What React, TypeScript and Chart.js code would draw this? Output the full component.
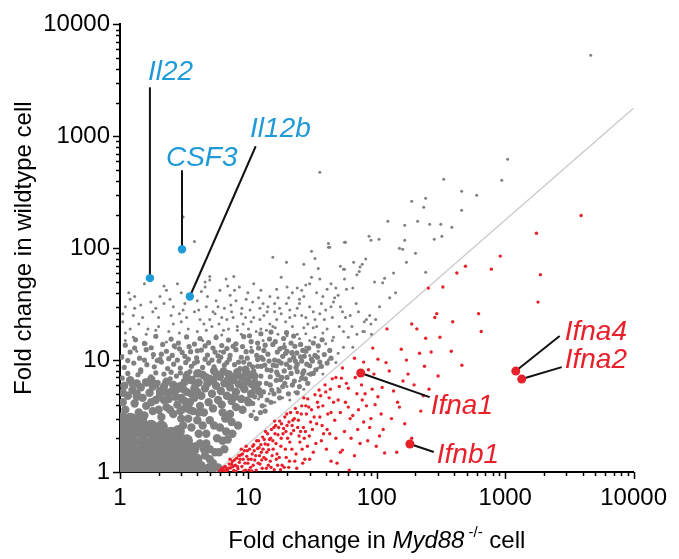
import React, { useEffect, useRef } from 'react';
import { Chart, registerables } from 'chart.js';
Chart.register(...registerables);

const FONT = '"Liberation Sans", Arial, Helvetica, sans-serif';

const axisDecades = [1, 10, 100, 1000, 10000];

// solid core of the cloud
const grayCore: number[][] = [
  [1.05,1.07],[1.22,1.06],[1.45,1.08],[1.72,1.05],[2.05,1.07],[2.4,1.06],[2.85,1.08],[3.3,1.06],[3.8,1.07],
  [1.08,1.29],[1.27,1.31],[1.5,1.28],[1.78,1.3],[2.1,1.29],[2.5,1.31],[2.9,1.28],[3.4,1.3],[3.9,1.29],
  [1.04,1.55],[1.24,1.57],[1.47,1.54],[1.74,1.56],[2.07,1.55],[2.45,1.57],[2.9,1.55],[3.35,1.56],[3.7,1.6],
  [1.06,1.86],[1.25,1.88],[1.5,1.85],[1.8,1.87],[2.1,1.86],[2.5,1.88],[2.95,1.85],[3.3,1.9],
  [1.05,2.24],[1.25,2.22],[1.5,2.25],[1.78,2.23],[2.1,2.26],[2.5,2.22],[2.85,2.3],
  [1.05,2.6],[1.25,2.58],[1.48,2.62],[1.75,2.56],[2.1,2.52],
  [1.04,3.0],[1.22,2.95],[1.45,2.9],
];

// dense speckled zone
const grayDense: number[][] = [
  [1.1,3.6],[1.3,4.1],[1.15,4.8],[1.4,3.4],[1.6,3.9],[1.5,4.6],[1.25,5.4],[1.08,5.9],[1.45,5.7],[1.7,5.1],
  [1.9,4.4],[1.8,3.5],[2.1,3.1],[2.3,3.8],[2.05,4.9],[2.4,4.5],[2.6,3.3],[2.8,4.0],[2.55,5.3],[2.2,5.8],
  [3.0,3.0],[3.2,3.7],[3.0,4.6],[3.5,4.2],[3.4,3.0],[3.7,3.5],[3.3,5.2],[2.9,5.8],[1.6,6.3],[1.2,6.6],
  [1.9,6.1],[4.0,2.9],[4.2,3.9],
  [4.3,4.8],[4.6,5.6],[4.1,6.3],[4.9,4.2],[5.2,5.0],[5.6,5.9],[5.0,6.8],[5.8,4.4],[6.1,5.3],[6.5,6.2],
  [6.0,7.1],[6.8,4.8],[7.2,5.7],[7.6,6.6],[7.0,7.5],[8.0,5.2],[8.4,6.1],[8.9,7.0],[8.2,7.8],[9.3,5.5],
  [9.8,6.5],[10.3,7.4],[9.5,8.2],[4.5,3.4],[5.3,3.7],[6.2,4.0],[7.4,4.3],[4.4,2.6],[5.0,2.9],[4.7,2.2],
  [4.4,7.4],[5.4,8.0],[3.8,5.6],[3.6,6.6],[4.0,7.6],[3.3,7.2],[4.2,1.8],[4.6,1.4],[4.3,1.15],[5.0,1.6],
  [5.3,1.2],[5.7,2.0],[6.0,2.5],[6.6,3.0],[7.2,3.3],[8.0,3.8],[8.8,4.5],[10.5,5.0],[11.5,6.0],
  [1.05,4.2],[1.2,3.1],[1.35,4.7],[1.55,3.2],[1.75,4.2],[2.0,3.6],[2.2,4.4],[2.45,3.6],[2.7,4.7],[2.95,3.5],
  [3.2,4.3],[3.5,3.6],[3.8,4.6],[4.1,3.4],[1.05,5.1],[1.35,5.0],[1.8,5.8],[2.05,5.3],[2.35,5.1],[2.75,5.4],
  [3.1,5.5],[3.6,5.0],[4.0,5.2],[1.35,6.2],[1.75,6.7],[2.3,6.4],[2.6,6.0],[3.2,6.4],[3.9,6.1],[4.8,6.2],
  [5.3,6.5],[5.7,7.4],[6.4,7.9],[6.9,6.6],[7.8,7.1],[4.7,7.0],[3.1,2.6],[3.6,2.5],[4.1,2.2],[3.9,1.7],
  [4.5,1.6],[4.9,1.1],[5.5,1.5],[5.8,1.1],[6.3,1.9],[6.7,2.3],[7.4,2.8],[5.4,2.6],[6.3,3.4],[7.8,4.7],
  [9.0,5.9],[9.0,3.6],[10.0,4.2],[10.6,6.1],[11.1,7.2],[12,5.3],
  [4.4,1.02],[5.0,1.3],[5.2,1.03],[4.7,1.8],[5.9,1.5],[6.5,1.6],[6.9,1.95],[7.5,2.2],[8.3,2.6],
];

// medium density zone
const grayMid: number[][] = [
  [1.04,6.9],[1.22,6.1],[1.38,7.4],[1.56,6.5],[1.74,7.1],[1.98,6.3],[2.2,7.5],[2.46,6.8],[2.75,7.2],[3.05,6.2],
  [3.3,7.6],[3.7,6.9],[4.1,7.9],
  [1.08,8.6],[1.28,9.4],[1.45,8.2],[1.62,9.1],[1.85,8.7],[2.1,9.6],[2.35,8.4],[2.62,9.2],[2.95,8.5],[3.25,9.5],
  [3.6,8.8],[4.0,9.7],[4.4,8.6],[4.9,9.4],[5.4,8.7],[5.9,9.8],[6.5,9.0],[7.1,10.2],[7.8,9.1],
  [1.03,10.6],[1.2,11.8],[1.42,10.4],[1.6,12.4],[1.82,11.2],[2.05,10.2],[2.3,12.0],[2.55,11.0],[2.9,12.6],
  [3.2,10.8],[3.55,11.9],[3.95,10.5],[4.3,12.3],[4.8,11.1],[5.3,12.8],[5.8,10.9],[6.4,11.8],[7.2,11.0],
  [8.0,12.4],[8.8,10.6],[9.6,11.9],
  [1.1,13.6],[1.32,15.2],[1.55,14.1],[1.9,16.3],[2.15,13.8],[2.5,15.4],[2.85,14.2],[3.3,16.1],[3.8,13.9],
  [4.2,15.6],[4.9,14.3],[5.6,15.9],[6.2,13.5],[7.0,15.1],[8.0,14.0],[9.2,16.2],[10.5,14.6],
  [8.6,8.4],[9.4,7.6],[10.2,9.2],[11,8.0],[11.8,10.1],[12.5,7.2],[13.4,9.0],[14.2,11.3],[15,8.1],[16,10],
  [17,7.4],[18,9.4],[19.5,11.5],[21,8.6],[22.5,10.6],[24,7.9],[26,9.8],[28,12],[30,8.9],[33,11],[36,9.6],
  [12,12.8],[15.5,13.8],[19,13],[11,5.6],[12.5,4.8],[13.8,6.2],[15.2,5.4],[16.5,6.6],[18.5,5.8],[20,7.0],
  [22,6.0],[24,5.1],[26,6.9],[29,6.2],[32,7.6],[13.5,3.5],[11.5,3.0],[12.8,3.9],[15,4.2],[17.5,4.6],
  [1.15,7.6],[1.45,7.9],[1.9,7.7],[2.5,7.8],[2.95,7.7],[3.5,7.9],[4.3,7.6],[1.15,9.9],[1.55,10.0],[1.95,9.9],
  [2.4,10.3],[2.8,10.0],[3.4,10.2],[3.8,9.4],[4.6,10.2],[5.2,10.0],[6.1,10.6],[6.8,9.5],[8.4,9.6],[9.2,9.6],
  [1.3,12.8],[1.75,12.9],[2.1,11.3],[2.65,13.4],[3.05,11.7],[3.45,13.2],[4.0,12.1],[4.6,13.4],[5.5,11.8],
  [6.8,12.7],[7.6,13.3],[9.0,13.2],[10.6,12.0],[11.6,11.0],[13,10.2],[14.5,9.8],[16.5,8.9],[19,8.0],[21,10.0],
  [24,9.2],[27,8.0],[31,10.2],[13.2,12.2],[16.8,11.8],[20,12.0],[23,13.3],[14.8,7.1],[17.8,6.7],[9.8,10.4],
  [10.8,8.7],[12.6,8.8],[11.3,6.6],[9.8,4.5],[10.8,4.1],[12.2,6.2],
  [10.5,3.2],[11.2,4.7],[12.4,3.4],[13.1,5.2],[14.0,4.4],[14.8,6.0],[15.8,5.0],[16.6,7.8],[17.3,5.3],[18.2,7.0],
  [19.2,6.2],[20.5,5.0],[21.5,7.6],[22.8,6.5],[23.5,8.6],[25,5.8],[26.5,7.6],[27.8,6.8],[28.5,9.2],[30.5,7.5],
  [31.5,9.8],[33.5,8.2],[34.5,10.6],[37,8.8],[39,11.2],[41,9.4],[43,12.2],[44,10.4],[11.8,14.2],[13.5,13.6],
  [14.6,15.4],[16.2,14.6],[17.6,12.6],[18.8,15.6],[21.5,14.2],[23.8,11.6],[25.5,13.8],[27.2,10.8],[29.5,12.8],
  [32,14.2],[35,13.4],[37.5,15.2],[10.2,16.5],[12.5,17.2],[15,17.8],[19.8,17.6],[22.5,16.4],[9.2,7.2],[10.0,6.2],
  [11.8,8.8],[12.6,10.6],[14.0,8.2],[15.6,9.0],[17.2,9.8],[18.5,10.8],[19.8,9.2],[21.8,11.6],[23.2,9.8],
  [25.5,10.7],[26.5,12.2],
];

// scattered points
const graySparse: number[][] = [
  [3.8,115],[3.1,190],[36,477],[332,413],[458,323],[600,297],[458,218],[187,263],[240,279],[232,232],
  [122,174],[165,160],[208,174],[258,164],[315,164],[384,154],[321,128],[87,128],[90,118],[104,120],
  [57,113],[165,118],[159,98],[240,61],[52,69],[66,75],[74,68],[77,72],[73,62],[55,65],[43,102],
  [940,405],[1045,623],[4630,5290],
  [56,113],[42,110],[42,102],[31,94],[15.5,83],[19.8,75],[27,72],[33,81],[35,66],[56,65],[5.0,56],[5.0,52],
  [6.7,53],[7.7,56],[4.6,45],[7.2,38],[12,36],[14.7,37],[16.6,43],[20.6,36],[22,40],[27,37],[31,55],[28,47],
  [36,53],[41,43],[44,48],[48,44],[56,53],[58,43],[65,44],[69,32],[96,50],[111,49],[115,54],[126,36],[88,25],
  [98,23],[83,23],[57,24],[54,27],[47,36],[37,32],[30,30],[25,32],[21,28],[14.2,30],[12.3,29],[10.3,28],
  [8.9,29],[7.4,27],[5.8,30],[4.7,30],[5.3,27],[6.2,24],[7.6,24],[9.1,21],[12.3,23],[16.6,23],[22,20],
  [34,20],[41,19],[51,20],[64,20],[78,18],[91,17],
  [1.17,40],[1.74,33],[1.27,25],[1.5,24],[2.2,32],[2.45,35],[3.1,28],[3.2,32],[4.0,34],[4.8,37],[9.9,40],
  [4.2,23],[2.6,21],[1.9,18.5],[1.27,16],[1.1,15],[1.6,14],[2.3,14.5],[3.3,16],[4.7,18.5],[6.8,23],[14.7,21],
  [19.8,32],[36,26],
  [1.05,11],[1.35,12],[1.8,10.5],[2.7,12.8],[3.5,13],[4.4,15],[5.6,16.5],[6,12],[7.8,14],[8.8,17],[10.5,13],
  [11.5,18],[13,15],[17,17],[19,14],[24,17],[27,19.5],[30,15],[38,17.5],[46,16],[55,18],[62,25],[72,27],
  [80,22],[105,30],[140,40],[135,60],[170,75],[200,90],[280,120],[2.0,20],[3.0,22],[1.2,19],[5.2,20],[7.0,19],
  [10,19],[11,24],[18,26],[26,25],[44,30],[50,38],[70,58],[82,80],[150,100],[2.8,48],[1.1,30],[6.0,42],
  [8.5,45],[11,48],[18,55],
  [40,14],[45,15],[35,12],[42,10],[50,11.5],[55,13],[60,16],[48,9.5],[65,13],[70,17],[80,18],[90,21],
  [38,7.5],[35,8.5],[29,7.5],[25,6.5],[23,5.2],[27,5.5],[20,5.8],[17,5.6],[14.5,5.0],[16,4.2],[18.5,4.6],
  [21,4.4],[12,4.5],[11,3.5],[13.5,3.9],[25,15.5],[20,16.5],[33,16],[22,12],[18,13],[28,13],[30,11],
  [1.1,17.5],[1.4,21],[1.65,19],[2.0,24],[2.4,18],[2.9,26],[3.4,19],[3.8,27],[4.5,21],[5.5,26],[6.4,18.5],
  [7.3,31],[8.2,20],[9.5,24],[10.8,33],[12.5,19],[14,27],[15.5,20],[17.5,29],[19.5,22],[23,25],[25,35],
  [29,21],[32,27],[39,23],[1.3,29],[1.8,27],[2.6,30],[3.6,38],[5.6,34],[6.5,29],[8,34],[1.55,48],[2.3,42],
  [12.5,42],[16,32],[20,45],[26,42],[30,48],[38,37],[45,24],[52,30],[1.05,22],[1.2,35],[2.05,37],[4.3,41],
  [6.9,46],[9.6,35],
  [1.05,26],[1.45,31],[1.9,29],[2.5,25],[3.3,24],[4.1,28],[5.0,23],[5.9,21],[8.8,26],[10.5,22],[13.2,25],
  [16,27],[21,24],[24,29],[28,24],[33,23],[40,28],[46,33],[1.3,37],[2.2,46],[3.0,40],[4.6,50],[7.8,42],
  [13,32],[17,36],[24,44],[34,40],[1.6,17],[2.9,17.5],[4.0,18],[6.2,16.8],[8.2,18.5],[13.8,18.5],[16.2,19.5],
  [28,17.2],[32,19.5],
];

const redPoints: number[][] = [
  [6.0,1.03],[6.2,1.07],[6.5,1.02],[6.6,1.12],[6.9,1.05],[7.1,1.18],[7.3,1.09],[7.5,1.24],[7.7,1.03],[7.9,1.15],
  [8.1,1.33],[8.3,1.07],[8.5,1.22],[8.7,1.42],[8.9,1.12],[9.1,1.3],[9.3,1.55],[9.5,1.04],[9.7,1.38],[9.9,1.2],
  [10.2,1.6],[10.4,1.1],[10.7,1.45],[11,1.75],[11.2,1.28],[11.5,1.04],[11.8,1.62],[12,1.9],[12.3,1.18],
  [12.6,1.5],[12.9,2.05],[13.2,1.35],[13.5,1.78],[13.8,1.08],[14.1,2.2],[14.4,1.58],[14.8,1.25],[15.1,2.4],
  [15.5,1.9],[15.9,1.05],[16.3,2.6],[16.7,1.45],[17,2.15],[17.5,2.85],[17.9,1.7],[18.3,1.15],[18.8,2.45],
  [19.2,3.1],[19.7,1.35],[20.2,2.0],[20.7,2.8],[21.3,3.4],[21.8,1.6],[22.5,2.35],[23.2,3.7],[23.8,1.08],
  [24.5,2.9],[25.2,1.85],[26,3.9],[26.8,2.5],[27.5,1.3],[28.3,3.3],[29,4.5],[29.8,2.1],[31,3.6],[32,1.5],
  [33,4.9],[34,2.7],[35.5,5.4],[37,1.9],[38,3.9],[39.5,6.0],[41,2.4],[42.5,4.6],[44,1.25],[45,6.8],
  [43,2.2],[44,3.4],[48,7],[53,6.9],[54,8.5],[52,3.4],[49,1.2],[54,1.57],[61,1.04],[60,5.6],[60,3.8],
  [67,10.4],[74,1.8],[76,6],[79,9.6],[79,2.8],[83,3.9],[93,12.8],[97,4],[102,10.2],[102,4.7],[105,2.1],
  [110,5.7],[115,1.48],[120,19],[143,1.5],[145,4.2],[170,10],[187,21],[187,2.0],[205,19],[215,11.5],
  [240,15.7],[252,44],[265,11.8],[283,24],[293,26],[300,7.2],[327,45],[390,22],[420,60],[620,26],[650,18],
  [1800,33],[1880,58],[1750,136],[3900,196],[915,85],[490,69],[780,65],
  [6.8,1.02],[7.2,1.3],[8.0,1.01],[8.8,1.6],[9.6,1.7],[10.0,1.3],[10.9,1.15],[11.6,1.9],[12.2,1.4],[13.0,1.6],
  [13.6,2.3],[14.6,1.95],[15.3,1.4],[16.0,2.85],[16.9,1.15],[18.0,2.0],[19.0,1.1],[19.9,3.3],[20.9,1.25],
  [22.2,2.9],[24.0,3.4],[25.5,2.3],[27,4.6],[28.8,1.7],[30.5,2.8],[36,3.1],[40,5.2],[47,2.9],[50,4.4],
  [56,2.3],[65,3.2],[70,5],[88,2.5],[95,7.5],[130,3.0],[160,6.5],
  [6.1,1.01],[6.4,1.1],[7.0,1.08],[7.4,1.17],[7.8,1.28],[8.2,1.12],[8.6,1.3],[9.0,1.45],[9.2,1.02],[9.8,1.55],
  [10.1,1.04],[10.5,1.3],[10.8,1.7],[11.4,1.4],[11.9,1.2],[12.5,1.75],[12.8,1.08],[13.3,1.95],[13.9,1.5],
  [14.3,1.15],[14.9,2.0],[15.6,1.6],[16.1,2.2],[16.5,1.3],[17.2,2.5],[17.8,1.05],[18.6,2.2],[19.4,1.6],
  [20,2.6],[20.6,1.1],[21.5,2.2],[22.8,3.0],[23.5,1.45],[24.8,2.1],[25.8,3.3],[26.5,1.2],[27.8,2.3],
  [29.5,3.8],[31.5,2.4],[33.5,1.8],[35,3.8],[36.5,4.8],[38.5,2.2],[41.5,3.3],[46,4.2],[51,5.8],[57,4.2],
  [63,2.0],[68,7.0],[72,3.6],[81,5.0],[86,8.2],[90,3.0],[99,1.7],[108,3.3],[125,8.0],[135,5.3],[155,12.5],
  [165,2.7],[195,6.0],[220,3.5],[235,8.8],[255,5.5],[310,16],[350,3.4],[380,12],[460,9],
  [6.3,1.05],[6.7,1.07],[7.6,1.12],[8.4,1.4],[9.4,1.2],[10.6,1.02],[11.1,1.55],[12.1,1.65],[12.7,1.28],
  [13.7,1.3],[14.2,1.75],[15.0,1.1],[15.8,2.5],[16.4,1.8],[17.4,1.35],[18.1,2.7],[19.6,2.3],[21.0,1.85],
  [21.9,2.6],[23.0,1.25],[24.2,2.5],[26.2,1.6],[27.2,2.0],[28.0,3.9],[30.0,1.3],[32.5,3.1],[34.5,4.2],
  [37.5,2.6],[40.5,1.6],[43.5,5.5],[48,2.0],[52,1.5],[58,6.2],[62,3.0],[67,1.4],[71,2.4],[77,4.4],[85,1.9],
  [92,5.5],[112,2.4],[118,9.5],[150,3.8],[175,7.5],[230,4.8],
];

const blueGenes = ['Il22', 'CSF3', 'Il12b'];
const blueX = [1.71, 3.04, 3.5];
const blueY = [54, 98, 37];
const blueLeaderX = [1.71, 3.04, 11.4];
const blueLeaderY = [2739, 497, 815];
const blueLabelX = [1.65, 2.28, 10.3];
const blueLabelY = [3162, 540, 980];

const redGenes = ['Ifna1', 'Ifnb1', 'Ifna4', 'Ifna2'];
const redX = [75, 181, 1208, 1344];
const redY = [7.66, 1.78, 7.98, 6.77];
const redLeaderX = [258, 278, 2655, 2754];
const redLeaderY = [4.67, 1.51, 16.4, 8.66];
const redLabelX = [263, 293, 2904, 2904];
const redLabelY = [3.3, 1.2, 15.1, 8.49];

const diagX = [5.6, 10000];
const diagY = [1, 1786];

const GRAY = '#808080';
const RED = '#e8202a';
const BLUE = '#1f9ad8';

const toXY = (arr: number[][]) => arr.map(([x, y]) => ({ x, y }));

const overlay = {
  id: 'overlay',
  afterDatasetDraw(chart: any, args: any) {
    if (args.index !== 2) return;
    const { ctx, scales } = chart;
    const x = scales.x, y = scales.y;
    ctx.save();
    ctx.strokeStyle = '#111';
    ctx.lineWidth = 2;
    const seg = (x1: number, y1: number, x2: number, y2: number) => {
      ctx.beginPath();
      ctx.moveTo(x.getPixelForValue(x1), y.getPixelForValue(y1));
      ctx.lineTo(x.getPixelForValue(x2), y.getPixelForValue(y2));
      ctx.stroke();
    };
    blueGenes.forEach((_, i) => seg(blueX[i], blueY[i], blueLeaderX[i], blueLeaderY[i]));
    redGenes.forEach((_, i) => seg(redX[i], redY[i], redLeaderX[i], redLeaderY[i]));
    ctx.restore();
  },
  afterDraw(chart: any) {
    const { ctx, scales, chartArea } = chart;
    const x = scales.x, y = scales.y;
    ctx.save();
    ctx.strokeStyle = '#000';
    ctx.lineWidth = 1.5;
    const vals: { v: number; major: boolean }[] = [];
    for (let e = 0; e < 4; e++) {
      for (let m = 1; m < 10; m++) vals.push({ v: m * Math.pow(10, e), major: m === 1 });
    }
    vals.push({ v: 10000, major: true });
    vals.forEach(({ v, major }) => {
      const len = major ? 7 : 4;
      const py = Math.round(y.getPixelForValue(v)) + 0.5;
      ctx.beginPath();
      ctx.moveTo(chartArea.left - len, py);
      ctx.lineTo(chartArea.left, py);
      ctx.stroke();
      const px = Math.round(x.getPixelForValue(v)) + 0.5;
      ctx.beginPath();
      ctx.moveTo(px, chartArea.bottom);
      ctx.lineTo(px, chartArea.bottom + len);
      ctx.stroke();
    });
    ctx.textAlign = 'left';
    ctx.textBaseline = 'alphabetic';
    ctx.font = `italic 28px ${FONT}`;
    ctx.fillStyle = BLUE;
    blueGenes.forEach((g, i) => ctx.fillText(g, x.getPixelForValue(blueLabelX[i]), y.getPixelForValue(blueLabelY[i])));
    ctx.fillStyle = RED;
    redGenes.forEach((g, i) => ctx.fillText(g, x.getPixelForValue(redLabelX[i]), y.getPixelForValue(redLabelY[i])));
    ctx.fillStyle = '#000';
    ctx.save();
    ctx.translate(31, (chartArea.top + chartArea.bottom) / 2);
    ctx.rotate(-Math.PI / 2);
    ctx.textAlign = 'center';
    ctx.font = `24px ${FONT}`;
    ctx.fillText('Fold change in wildtype cell', 0, 0);
    ctx.restore();
    const segs = [
      { t: 'Fold change in ', f: `24px ${FONT}`, dy: 0, pre: 0 },
      { t: 'Myd88', f: `italic 24px ${FONT}`, dy: 0, pre: 0 },
      { t: '-/-', f: `15px ${FONT}`, dy: -11, pre: 4 },
      { t: ' cell', f: `24px ${FONT}`, dy: 0, pre: 0 },
    ];
    let total = 0;
    segs.forEach((s) => { ctx.font = s.f; total += s.pre + ctx.measureText(s.t).width; });
    let cx = (chartArea.left + chartArea.right) / 2 - total / 2;
    const base = 548;
    ctx.textAlign = 'left';
    segs.forEach((s) => {
      ctx.font = s.f;
      cx += s.pre;
      ctx.fillText(s.t, cx, base + s.dy);
      cx += ctx.measureText(s.t).width;
    });
    ctx.restore();
  },
};

export default function App() {
  const ref = useRef<HTMLCanvasElement | null>(null);
  useEffect(() => {
    if (!ref.current) return;
    const tickCb = (v: any) => {
      const n = Number(v);
      return axisDecades.includes(n) ? String(n) : '';
    };
    const chart = new Chart(ref.current, {
      type: 'scatter',
      data: {
        datasets: [
          { data: blueX.map((v, i) => ({ x: v, y: blueY[i] })), backgroundColor: BLUE, borderWidth: 0, pointRadius: 4.2 },
          { data: redX.map((v, i) => ({ x: v, y: redY[i] })), backgroundColor: RED, borderWidth: 0, pointRadius: 4.5 },
          { data: toXY(redPoints), backgroundColor: RED, borderWidth: 0, pointRadius: 1.7, clip: 0 },
          { data: toXY(graySparse), backgroundColor: GRAY, borderWidth: 0, pointRadius: 1.5, clip: 0 },
          { data: toXY(grayMid), backgroundColor: GRAY, borderWidth: 0, pointRadius: 2.6, clip: 0 },
          { data: toXY(grayDense), backgroundColor: GRAY, borderWidth: 0, pointRadius: 4.2, clip: 0 },
          { data: toXY(grayCore), backgroundColor: GRAY, borderWidth: 0, pointRadius: 6.5, clip: 0 },
          { data: diagX.map((v, i) => ({ x: v, y: diagY[i] })), showLine: true, borderColor: '#cdcdcd', borderWidth: 1.3, pointRadius: 0, clip: 0 },
        ] as any,
      },
      options: {
        animation: false,
        responsive: true,
        maintainAspectRatio: false,
        layout: { padding: { top: 24, right: 45, left: 0, bottom: 0 } },
        plugins: { legend: { display: false }, tooltip: { enabled: false } },
        elements: { point: { hoverRadius: 0 } },
        scales: {
          x: {
            type: 'logarithmic', min: 1, max: 10000,
            grid: { display: false, drawTicks: false },
            border: { display: true, color: '#000', width: 2 },
            ticks: { callback: tickCb, autoSkip: false, maxRotation: 0, padding: 12, color: '#000', font: { family: FONT, size: 24 } },
            afterFit: (s: any) => { s.height = 87; },
          },
          y: {
            type: 'logarithmic', min: 1, max: 10000,
            grid: { display: false, drawTicks: false },
            border: { display: true, color: '#000', width: 2 },
            ticks: { callback: tickCb, autoSkip: false, padding: 10, color: '#000', font: { family: FONT, size: 24 } },
            afterFit: (s: any) => { s.width = 120; },
          },
        },
      } as any,
      plugins: [overlay],
    });
    return () => chart.destroy();
  }, []);
  return (
    <div style={{ position: 'fixed', left: 0, top: 0, width: 679, height: 559, background: '#fff' }}>
      <canvas ref={ref} />
    </div>
  );
}
